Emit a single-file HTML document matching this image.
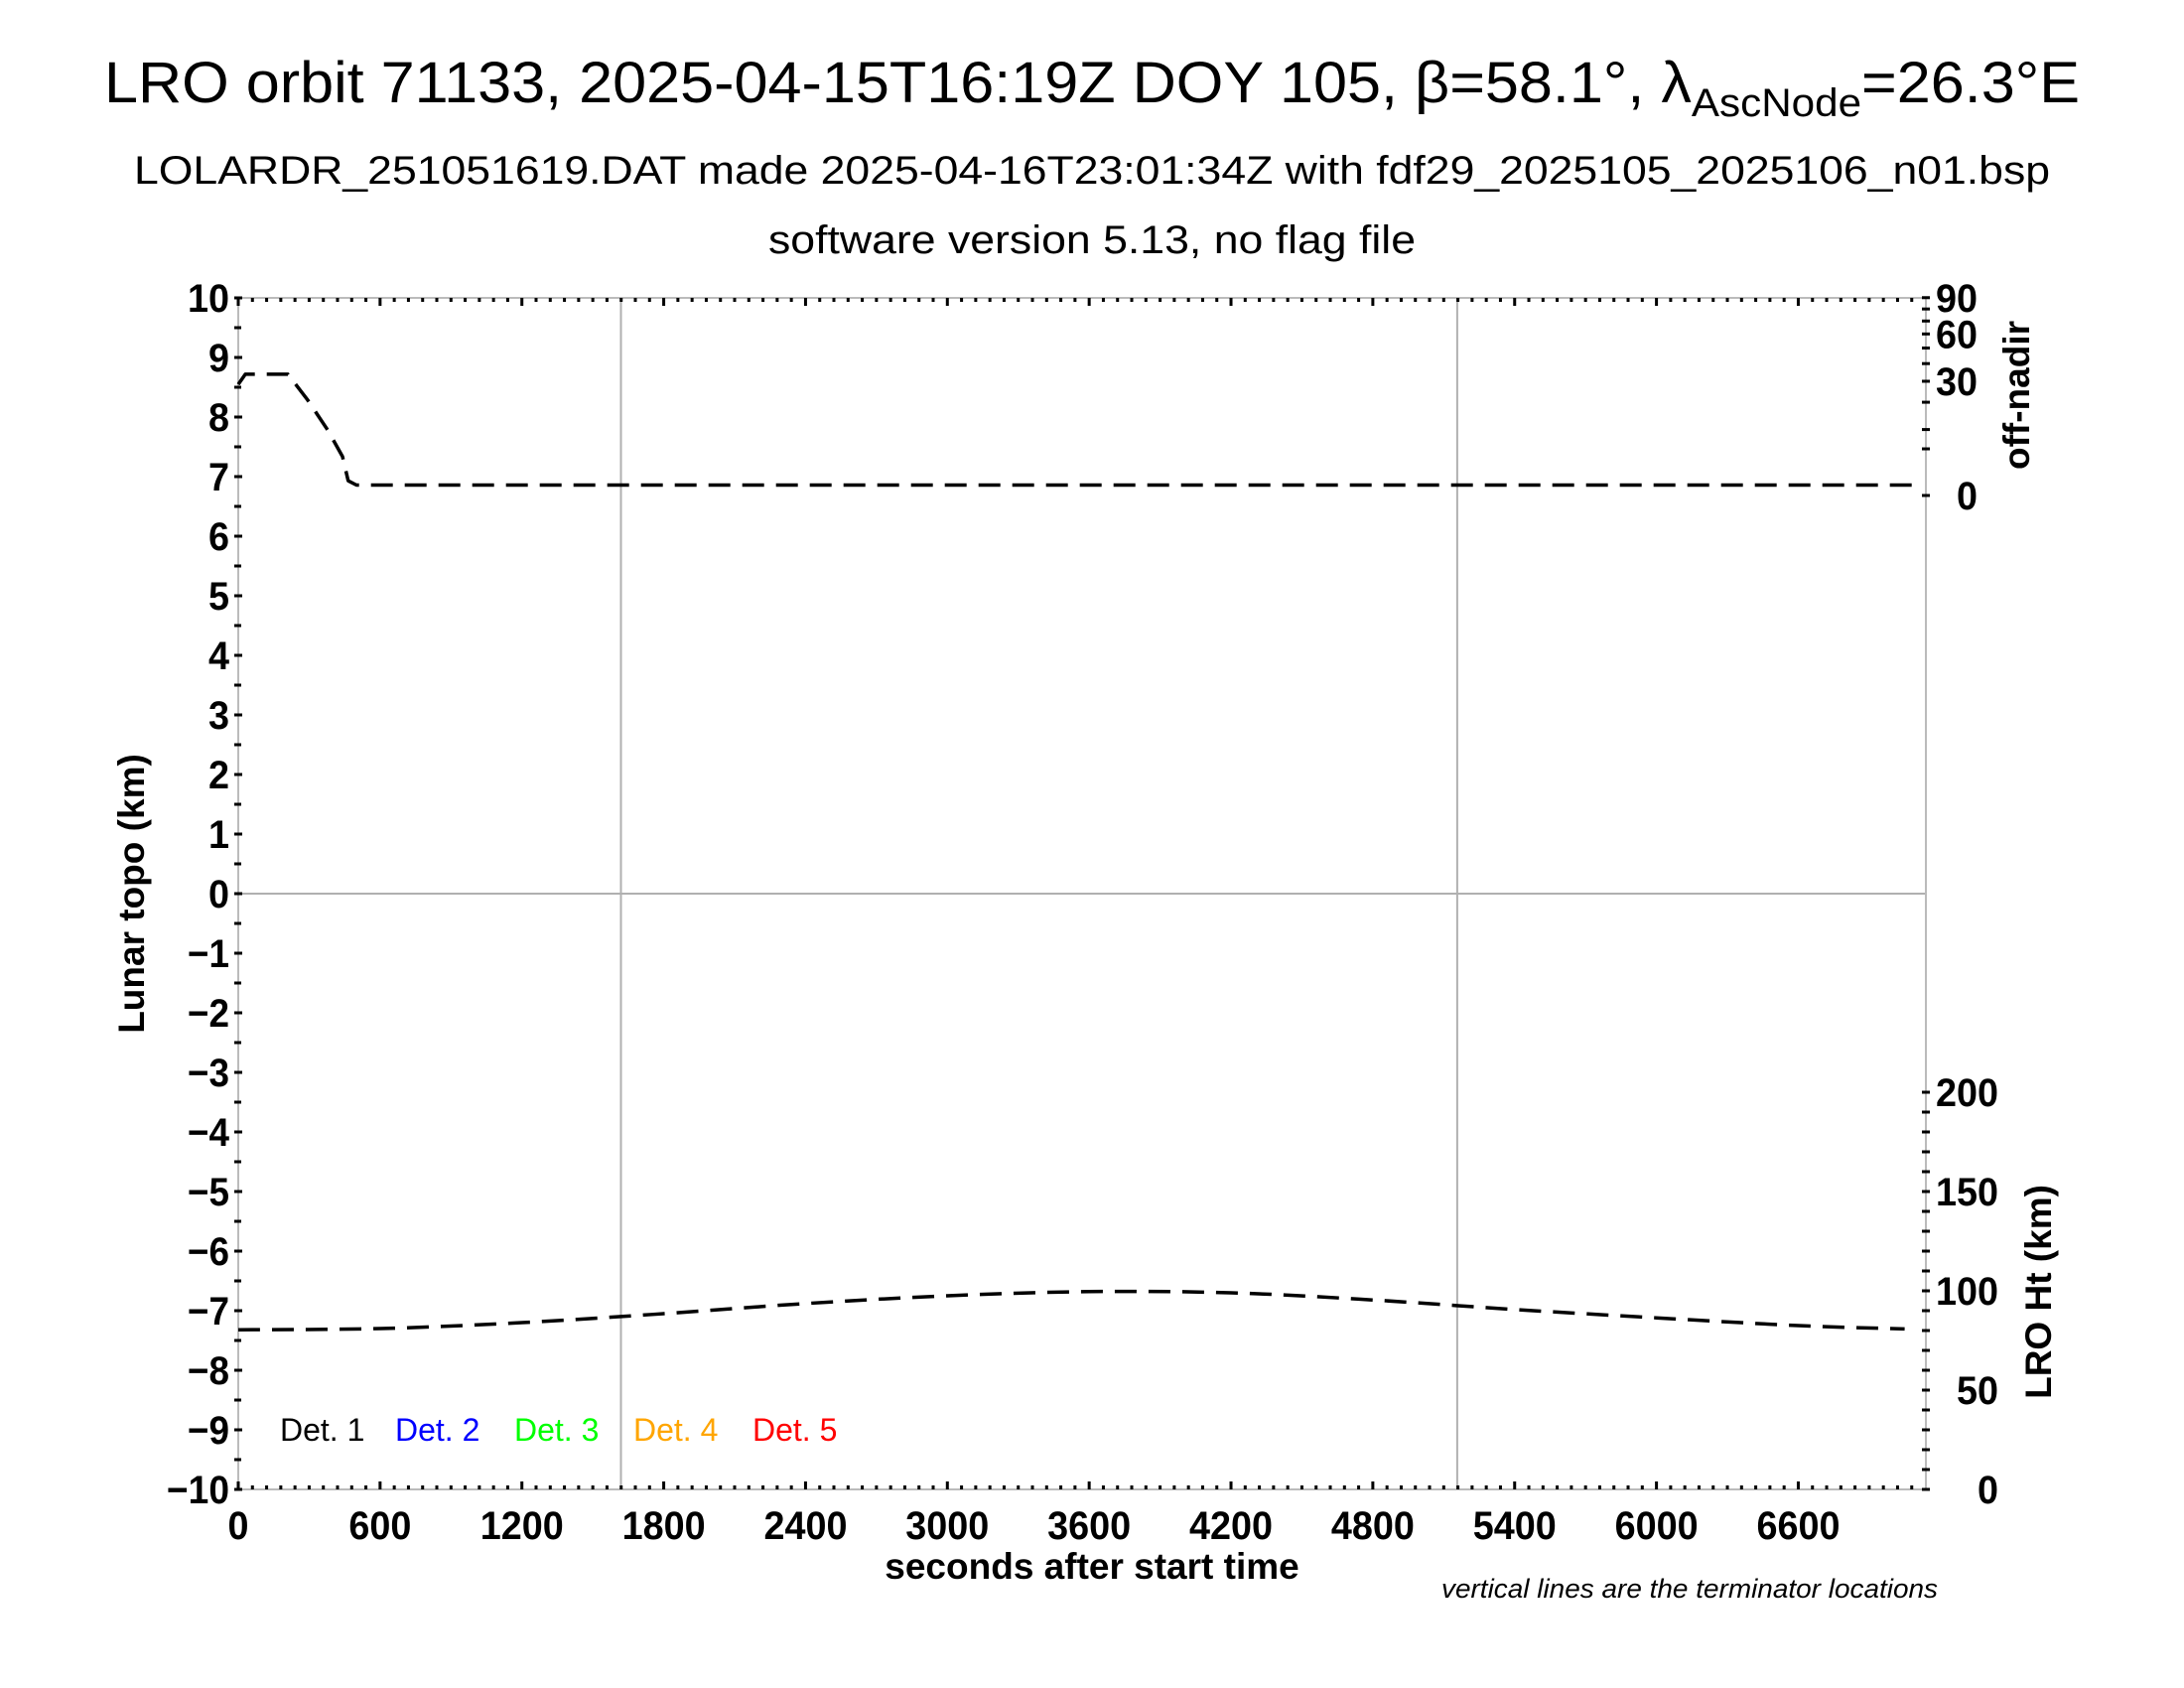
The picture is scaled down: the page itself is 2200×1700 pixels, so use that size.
<!DOCTYPE html>
<html><head><meta charset="utf-8"><style>
html,body{margin:0;padding:0;background:#fff;}
svg{display:block;font-family:"Liberation Sans",Arial,sans-serif;}
</style></head><body>
<svg id="chart" width="2200" height="1700" viewBox="0 0 2200 1700" xmlns="http://www.w3.org/2000/svg">
<text x="1100" y="103" text-anchor="middle" font-size="58" textLength="1990" lengthAdjust="spacingAndGlyphs">LRO orbit 71133, 2025-04-15T16:19Z DOY 105, β=58.1°, λ<tspan font-size="40" dy="14">AscNode</tspan><tspan dy="-14">=26.3°E</tspan></text>
<text x="1100" y="185" text-anchor="middle" font-size="40" textLength="1930" lengthAdjust="spacingAndGlyphs">LOLARDR_251051619.DAT made 2025-04-16T23:01:34Z with fdf29_2025105_2025106_n01.bsp</text>
<text x="1100" y="255" text-anchor="middle" font-size="40" textLength="652" lengthAdjust="spacingAndGlyphs">software version 5.13, no flag file</text>
<g id="grid"></g>
<g id="axes"></g>
<g id="series"></g>
<text transform="translate(145,900) rotate(-90)" text-anchor="middle" font-size="37" font-weight="bold">Lunar topo (km)</text>
<text x="1100" y="1590" text-anchor="middle" font-size="37" font-weight="bold">seconds after start time</text>
<text transform="translate(2044,398) rotate(-90)" text-anchor="middle" font-size="37" font-weight="bold">off-nadir</text>
<text transform="translate(2066,1301) rotate(-90)" text-anchor="middle" font-size="37" font-weight="bold">LRO Ht (km)</text>
<text x="1452" y="1609" font-size="27" font-style="italic" textLength="500" lengthAdjust="spacingAndGlyphs">vertical lines are the terminator locations</text>
<g font-size="32">
<text x="282" y="1451" fill="#000">Det. 1</text>
<text x="398" y="1451" fill="#0000ff">Det. 2</text>
<text x="518" y="1451" fill="#00ff00">Det. 3</text>
<text x="638" y="1451" fill="#ffa500">Det. 4</text>
<text x="758" y="1451" fill="#ff0000">Det. 5</text>
</g>
</svg>
<script>
const xTicks = [0,600,1200,1800,2400,3000,3600,4200,4800,5400,6000,6600];
const yTicks = [10,9,8,7,6,5,4,3,2,1,0,-1,-2,-3,-4,-5,-6,-7,-8,-9,-10];
const offNadirTicks = [0,30,60,90];
const htTicks = [0,50,100,150,200];
const terminatorTimes = [1619,5157];
const htTimes = [0,600,1200,1800,2400,3000,3600,4200,4800,5400,6000,6600,7050];
const htValues = [80.4,81,84,88.5,93.6,97.5,99.6,99,95.4,90.6,86.4,82.5,80.8];
const nadirTimes = [0,30,210,294,378,441,465,500,2000,4000,7080];
const nadirValues = [28.4,33.8,33.8,20.9,9.9,3.5,0.5,0.25,0.25,0.25,0.25];

const NS="http://www.w3.org/2000/svg";
const X0=240,X1=1940,Y0=300,Y1=1500,XMAX=(X1-X0)/0.2381;
const xs=t=>X0+t*0.2381;
const ys=v=>900-v*60;
const yNadir=d=>499-Math.sqrt(d)*21;
const yHt=h=>1500-h*2;
function mk(tag,attrs,parent){const e=document.createElementNS(NS,tag);for(const k in attrs)e.setAttribute(k,attrs[k]);parent.appendChild(e);return e;}
function lbl(s){return {textLength:s.length*21,lengthAdjust:'spacingAndGlyphs'};}
const grid=document.getElementById('grid'),axes=document.getElementById('axes'),ser=document.getElementById('series');

let e=mk('line',{x1:X0,x2:X1,y1:ys(0),y2:ys(0),stroke:'#b0b0b0','stroke-width':2},grid);


terminatorTimes.forEach(t=>{
 const l=mk('line',{x1:xs(t),x2:xs(t),y1:Y0,y2:Y1,stroke:'#b0b0b0','stroke-width':2},grid);
 
 
});
e=mk('rect',{x:X0,y:Y0,width:X1-X0,height:Y1-Y0,fill:'none',stroke:'#bbb','stroke-width':2},axes);


for(let t=0;t<=XMAX;t+=60){
 const big=t%600===0;
 mk('line',{x1:xs(t),x2:xs(t),y1:Y1,y2:Y1-(big?8:4),stroke:'#000','stroke-width':3},axes);
 mk('line',{x1:xs(t),x2:xs(t),y1:Y0,y2:Y0+(big?8:4),stroke:'#000','stroke-width':3},axes);
}
xTicks.forEach(t=>{
 const s=String(t);
 const tx=mk('text',Object.assign({x:xs(t)-s.length*10.5,y:1550,'font-size':40,'font-weight':'bold'},lbl(s)),axes);
 tx.textContent=s;
 
 
});
for(let v=-10;v<=10;v+=0.5){
 mk('line',{x1:X0-4,x2:X0+(v%1===0?4:3),y1:ys(v),y2:ys(v),stroke:'#000','stroke-width':3},axes);
}
yTicks.forEach(v=>{
 const s=v<0?'\u2212'+(-v):String(v);
 const w=s.length*21;
 const tx=mk('text',{x:231-w,y:ys(v)+14,'font-size':40,'font-weight':'bold',textLength:w,lengthAdjust:'spacingAndGlyphs'},axes);
 tx.textContent=s;
 
 
});
[0,5,10,20,30,40,50,60,70,80,90].forEach(d=>mk('line',{x1:X1-4,x2:X1+4,y1:yNadir(d),y2:yNadir(d),stroke:'#000','stroke-width':3},axes));
for(let h=0;h<=200;h+=10)mk('line',{x1:X1-4,x2:X1+4,y1:yHt(h),y2:yHt(h),stroke:'#000','stroke-width':3},axes);
offNadirTicks.forEach(d=>{
 const s=String(d);
 const tx=mk('text',Object.assign({x:1992-s.length*21,y:yNadir(d)+14,'font-size':40,'font-weight':'bold'},lbl(s)),axes);
 tx.textContent=s;
 
 
});
htTicks.forEach(h=>{
 const s=String(h);
 const tx=mk('text',Object.assign({x:2013-s.length*21,y:yHt(h)+14,'font-size':40,'font-weight':'bold'},lbl(s)),axes);
 tx.textContent=s;
 
 
});
function smoothPath(tt,vv,yf){
 const P=tt.map((t,i)=>[xs(t),yf(vv[i])]);
 let d='M'+P[0][0]+','+P[0][1];
 for(let i=0;i<P.length-1;i++){
  const p0=P[Math.max(0,i-1)],p1=P[i],p2=P[i+1],p3=P[Math.min(P.length-1,i+2)];
  const c1=[p1[0]+(p2[0]-p0[0])/6,p1[1]+(p2[1]-p0[1])/6];
  const c2=[p2[0]-(p3[0]-p1[0])/6,p2[1]-(p3[1]-p1[1])/6];
  d+=' C'+c1+' '+c2+' '+p2;
 }
 return d;
}
e=mk('path',{d:smoothPath(htTimes,htValues,yHt),fill:'none',stroke:'#000','stroke-width':3.5,'stroke-dasharray':'22,12'},ser);


let nd='';
nadirTimes.forEach((t,i)=>{nd+=(i?' L':'M')+xs(t)+','+yNadir(nadirValues[i]);});
e=mk('path',{d:nd,fill:'none',stroke:'#000','stroke-width':3.5,'stroke-dasharray':'22,12','stroke-linejoin':'round'},ser);


</script>
</body></html>
